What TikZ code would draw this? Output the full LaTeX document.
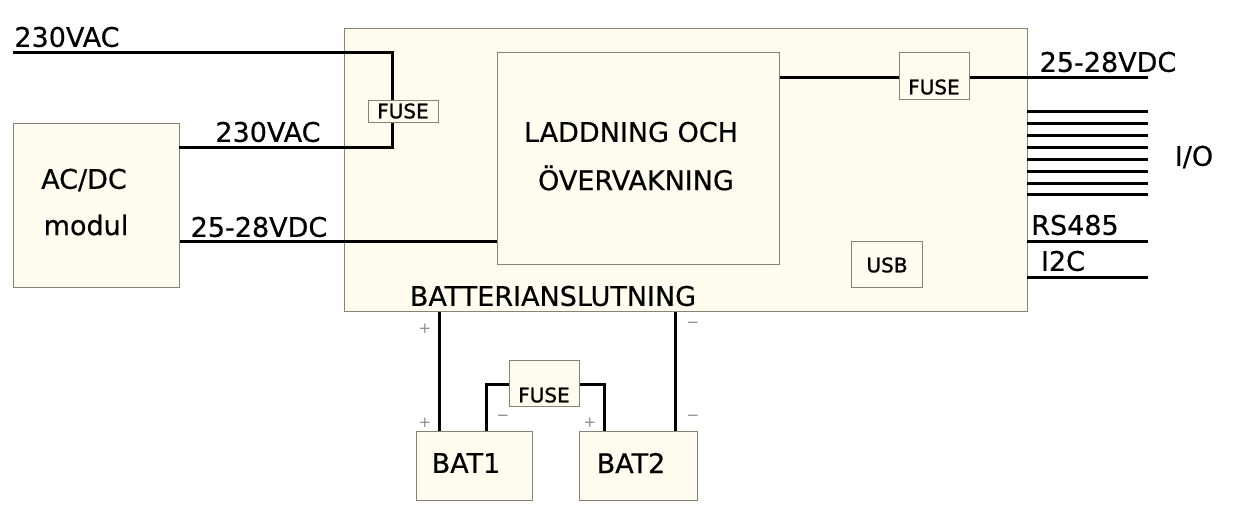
\documentclass[tikz,border=0pt]{standalone}
\usepackage{fontspec}
\setmainfont{DejaVu Sans}
\newfontfamily\semib{DejaVu Sans}[FakeBold=1.2]
\newfontfamily\medw{DejaVu Sans}[FakeBold=0.5]
\usetikzlibrary{calc}
\definecolor{boxfill}{HTML}{FEFCEE}
\definecolor{boxline}{HTML}{8A8175}
\definecolor{signgray}{HTML}{8C8C8C}
\tikzset{
  blk/.style={draw=boxline, line width=1.1pt, fill=boxfill, anchor=north west, inner sep=0pt},
  wire/.style={draw=black, line width=3pt},
  lbl/.style={font=\medw\fontsize{27}{30}\selectfont, inner sep=0pt},
  small/.style={font=\semib\fontsize{20}{22}\selectfont, inner sep=0pt},
  sign/.style={font=\fontsize{15}{16}\selectfont, text=signgray, inner sep=0pt},
}
\begin{document}
\begin{tikzpicture}[x=1pt,y=-1pt]
\useasboundingbox[fill=white] (0,0) rectangle (1238,506);
% blocks
\node[blk, minimum width=683pt, minimum height=283pt] (main) at (344,28) {};
\node[blk, minimum width=282pt, minimum height=212pt] (inner) at (497,52) {};
\node[lbl] (ladd1) at (631,132) {LADDNING OCH};
\node[lbl] (ladd2) at (636,178) {ÖVERVAKNING};
\node[blk, minimum width=166pt, minimum height=164pt] (acdc) at (13,123) {};
\node[lbl] (acdct) at (84,180) {AC/DC};
\node[lbl] (modul) at (86,225) {modul};
\node[blk, minimum width=71pt, minimum height=46pt] (usb) at (851,241) {};
\node[small] (usbt) at (887,265) {USB};
\node[blk, minimum width=116pt, minimum height=69pt] (bat1) at (416,431) {};
\node[lbl] (bat1t) at (466,463) {BAT1};
\node[blk, minimum width=118pt, minimum height=69pt] (bat2) at (579,431) {};
\node[lbl] (bat2t) at (631,463) {BAT2};
\node[lbl] (batan) at (553,296) {BATTERIANSLUTNING};
% top-right fuse
\node[blk, minimum width=70pt, minimum height=47pt] (fuseR) at (899,52) {};
\node[small] (fuseRt) at (934,87) {FUSE};
% bottom fuse
\node[blk, minimum width=70pt, minimum height=46pt] (fuseB) at (509,360) {};
\node[small] (fuseBt) at (544,395) {FUSE};
% coordinates
\coordinate (acin1) at (13,52);
\coordinate (jn) at (392,52);
\coordinate (acout) at (179,147);
\coordinate (dcin) at (497,241);
\coordinate (outdc) at (1148,77);
% AC wires
\draw[wire] (acin1) -- (jn) |- (acout);
\node[lbl] (ac1t) at (67,37) {230VAC};
\node[lbl] (ac2t) at (268,132) {230VAC};
% left fuse (on top of wire)
\node[blk, minimum width=70pt, minimum height=22pt] (fuseL) at (368,100) {};
\node[small] (fuseLt) at (403,111) {FUSE};
% DC wire
\draw[wire] (acdc.east |- dcin) -- (dcin);
\node[lbl] (dct) at (259,227) {25-28VDC};
% output wire
\draw[wire] (inner.east |- outdc) -- (fuseR.west |- outdc);
\draw[wire] (fuseR.east |- outdc) -- (outdc);
\node[lbl] (dcRt) at (1108,62) {25-28VDC};
% I/O lines
\foreach \y/\n in {111/1,123/2,135/3,147/4,159/5,171/6,183/7,194/8}{
  \coordinate (ioa\n) at (1027,\y);
  \coordinate (iob\n) at (1148,\y);
  \draw[wire] (ioa\n) -- (iob\n);
}
\node[lbl] (iot) at (1194,157) {I/O};
\coordinate (rsa) at (1027,241); \coordinate (rsb) at (1148,241);
\draw[wire] (rsa) -- (rsb);
\node[lbl] (rst) at (1075,225) {RS485};
\coordinate (i2a) at (1027,277); \coordinate (i2b) at (1148,277);
\draw[wire] (i2a) -- (i2b);
\node[lbl] (i2t) at (1063,261) {I2C};
% battery wires
\draw[wire] (main.south -| 439,0) -- (bat1.north -| 439,0);
\draw[wire] (main.south -| 675,0) -- (bat2.north -| 675,0);
\coordinate (b1m) at (486,431);
\coordinate (b2p) at (604,431);
\draw[wire] (b1m) |- (fuseB.west |- 0,384);
\draw[wire] (fuseB.east |- 0,384) -| (b2p);
% signs
\node[sign] (s1) at (425,329) {+};
\node[sign] (s2) at (693,325) {−};
\node[sign] (s3) at (425,423) {+};
\node[sign] (s4) at (503,418) {−};
\node[sign] (s5) at (590,423) {+};
\node[sign] (s6) at (693,418) {−};
\end{tikzpicture}
\end{document}
